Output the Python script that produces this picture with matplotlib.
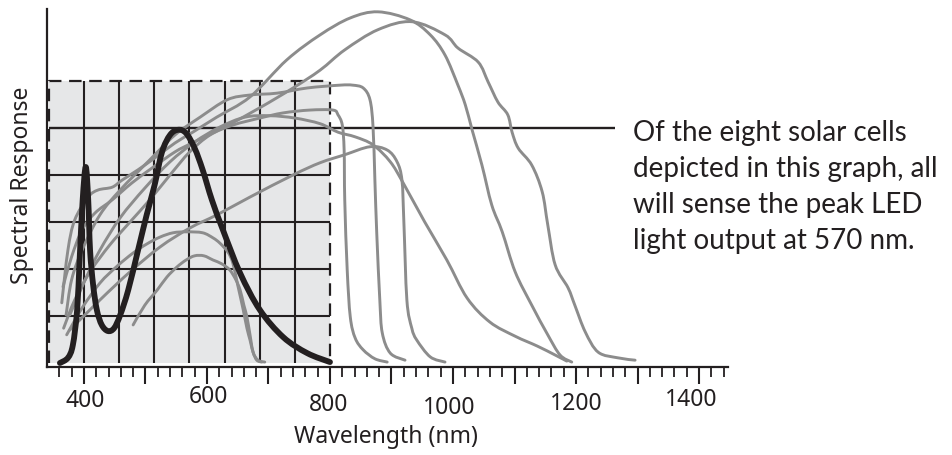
import matplotlib
matplotlib.use("Agg")
import matplotlib.pyplot as plt
from matplotlib.path import Path
from matplotlib.patches import PathPatch

plt.rcParams['lines.scale_dashes'] = False

# ---------------- data (wavelength nm, relative spectral response) -------------
cell_a_nm = [364, 374, 385, 407, 423, 446, 462, 488, 515, 548, 577, 616, 670, 730, 784, 833, 878, 930, 963, 987, 1008, 1020, 1031, 1047, 1063, 1080, 1101, 1128, 1154, 1174, 1193]
cell_a_r = [1.28, 2.40, 3.04, 3.53, 3.68, 3.74, 3.89, 4.11, 4.36, 4.68, 4.91, 5.23, 5.66, 6.45, 6.98, 7.34, 7.47, 7.30, 6.98, 6.55, 5.91, 5.49, 4.96, 4.21, 3.36, 2.79, 1.94, 1.23, 0.60, 0.17, 0.02]

cell_b_nm = [366, 380, 397, 418, 446, 478, 511, 548, 576, 626, 686, 740, 784, 824, 878, 933, 987, 1008, 1041, 1057, 1073, 1089, 1096, 1106, 1128, 1145, 1154, 1166, 1187, 1198, 1215, 1236, 1268, 1296]
cell_b_r = [1.62, 2.26, 2.83, 3.19, 3.47, 3.83, 4.15, 4.49, 4.68, 5.00, 5.43, 5.85, 6.23, 6.66, 7.09, 7.26, 6.98, 6.70, 6.40, 5.98, 5.55, 5.28, 4.91, 4.57, 4.21, 3.64, 2.94, 2.09, 1.60, 1.23, 0.66, 0.23, 0.11, 0.06]

cell_c_nm = [377, 402, 426, 459, 499, 540, 580, 621, 662, 702, 743, 784, 813, 841, 870, 898, 919, 954, 990, 1023, 1060, 1101, 1137, 1166, 1185]
cell_c_r = [1.02, 1.77, 2.40, 3.09, 3.72, 4.28, 4.70, 5.02, 5.23, 5.26, 5.21, 5.09, 4.91, 4.81, 4.64, 4.28, 3.83, 3.00, 2.19, 1.38, 0.87, 0.57, 0.36, 0.17, 0.04]

cell_d_nm = [371, 380, 397, 426, 459, 507, 548, 589, 633, 670, 714, 763, 816, 837, 854, 865, 870, 873, 876, 881, 885, 898, 922]
cell_d_r = [1.02, 1.77, 2.40, 3.15, 3.68, 4.32, 4.85, 5.23, 5.60, 5.70, 5.74, 5.85, 5.91, 5.91, 5.85, 5.60, 5.02, 3.89, 2.77, 1.34, 0.64, 0.21, 0.06]

cell_e_nm = [367, 385, 410, 442, 475, 507, 540, 572, 605, 642, 686, 724, 767, 805, 813, 820, 823, 824, 828, 833, 841, 854, 873, 893]
cell_e_r = [0.74, 1.34, 1.94, 2.51, 3.00, 3.47, 4.00, 4.49, 4.85, 5.06, 5.21, 5.32, 5.38, 5.38, 5.28, 5.06, 4.53, 3.47, 1.98, 0.98, 0.53, 0.28, 0.09, 0.02]

cell_f_nm = [377, 426, 475, 524, 572, 616, 670, 740, 784, 824, 865, 893, 909, 917, 920, 925, 933, 941, 963, 987]
cell_f_r = [0.70, 1.34, 1.94, 2.47, 2.87, 3.15, 3.53, 4.00, 4.26, 4.43, 4.60, 4.53, 4.28, 3.89, 3.04, 1.34, 0.74, 0.49, 0.13, 0.02]

cell_g_nm = [480, 499, 519, 535, 551, 566, 580, 595, 610, 624, 637, 647, 654, 660, 665, 670, 675, 683, 694]
cell_g_r = [0.81, 1.23, 1.55, 1.83, 2.04, 2.19, 2.28, 2.28, 2.19, 2.11, 1.98, 1.77, 1.55, 1.23, 0.98, 0.60, 0.23, 0.06, 0.02]

cell_h_nm = [372, 397, 426, 454, 480, 502, 524, 545, 567, 593, 610, 621, 634, 642, 650, 659, 665, 670, 675, 681, 689]
cell_h_r = [0.60, 1.17, 1.70, 2.06, 2.34, 2.53, 2.68, 2.77, 2.79, 2.77, 2.66, 2.55, 2.36, 2.13, 1.66, 1.13, 0.74, 0.49, 0.23, 0.06, 0.02]

led_nm = [361, 374, 382, 389, 393, 398, 403, 407, 410, 415, 421, 429, 439, 449, 459, 472, 488, 502, 515, 527, 540, 553, 566, 580, 593, 608, 626, 654, 686, 724, 763, 800]
led_r = [0.00, 0.11, 0.38, 1.13, 2.19, 3.47, 4.17, 3.47, 2.40, 1.66, 1.13, 0.81, 0.68, 0.74, 1.02, 1.55, 2.40, 3.15, 3.79, 4.49, 4.85, 4.96, 4.89, 4.57, 4.11, 3.47, 2.83, 1.91, 1.13, 0.55, 0.21, 0.02]

cells = [(cell_a_nm, cell_a_r), (cell_b_nm, cell_b_r), (cell_c_nm, cell_c_r),
         (cell_d_nm, cell_d_r), (cell_e_nm, cell_e_r), (cell_f_nm, cell_f_r),
         (cell_g_nm, cell_g_r), (cell_h_nm, cell_h_r)]

box_x = [343, 800]          # LED-range box (nm)
box_y = [0, 6]
grid_x = [400, 457, 514, 571, 629, 686, 743]
grid_y = [1, 2, 3, 4]
marker_level = 5            # horizontal reference line
marker_end = 1263

tick_labels = [400, 600, 800, 1000, 1200, 1400]
major_ticks = list(range(400, 1401, 100))
minor_ticks = list(range(360, 1441, 20))

annotation = ["Of the eight solar cells",
              "depicted in this graph, all",
              "will sense the peak LED",
              "light output at 570 nm."]


def smooth_path(xs, ys):
    """Catmull-Rom style cubic Bezier path passing through the data points."""
    pts = list(zip(xs, ys))
    verts = [pts[0]]
    codes = [Path.MOVETO]
    n = len(pts)
    for i in range(n - 1):
        p0 = pts[i - 1] if i > 0 else pts[i]
        p1 = pts[i]
        p2 = pts[i + 1]
        p3 = pts[i + 2] if i + 2 < n else pts[i + 1]
        c1 = (p1[0] + (p2[0] - p0[0]) / 6.0, p1[1] + (p2[1] - p0[1]) / 6.0)
        c2 = (p2[0] - (p3[0] - p1[0]) / 6.0, p2[1] - (p3[1] - p1[1]) / 6.0)
        verts += [c1, c2, p2]
        codes += [Path.CURVE4] * 3
    return Path(verts, codes)


# ---------------- figure ---------------------------------------------------------
W, H = 952, 455
fig = plt.figure(figsize=(W / 100, H / 100), dpi=100)
ax = fig.add_axes([47 / W, (H - 367) / H, (728 - 47) / W, (367 - 9) / H])
ax.set_xlim(340, 1447)
ax.set_ylim(-0.085, 7.53)

ink = '#231f20'
gray = '#8c8c8c'

# shaded box
ax.fill_between(box_x, box_y[0], box_y[1], color='#e6e7e8', lw=0, zorder=0)
for gx in grid_x:
    ax.plot([gx, gx], box_y, color=ink, lw=1.5, zorder=1, solid_capstyle='butt')
for gy in grid_y:
    ax.plot(box_x, [gy, gy], color=ink, lw=1.5, zorder=1, solid_capstyle='butt')
ax.plot([box_x[0], marker_end], [marker_level, marker_level], color=ink, lw=1.7, zorder=1,
        solid_capstyle='butt')
ax.plot([box_x[0], box_x[0], box_x[1], box_x[1]], [box_y[0], box_y[1], box_y[1], box_y[0]],
        color=ink, lw=1.6, dashes=(9, 5.5), zorder=1)

for xs, ys in cells:
    ax.add_patch(PathPatch(smooth_path(xs, ys), fill=False, edgecolor=gray, lw=2.1,
                           zorder=2, joinstyle='round', capstyle='round'))

ax.add_patch(PathPatch(smooth_path(led_nm, led_r), fill=False, edgecolor=ink, lw=4.2,
                       zorder=3, joinstyle='round', capstyle='round'))

# axes styling
for s in ['top', 'right']:
    ax.spines[s].set_visible(False)
for s in ['left', 'bottom']:
    ax.spines[s].set_linewidth(1.6)
    ax.spines[s].set_color(ink)
ax.set_yticks([])
ax.set_xticks(major_ticks)
ax.set_xticks(minor_ticks, minor=True)
ax.tick_params(axis='x', which='major', length=12, width=1.5, color=ink, labelbottom=False)
ax.tick_params(axis='x', which='minor', length=7, width=1.3, color=ink)

font = 'Noto Sans'
label_dx = [2, 3, -2, -7, 0, -13]
label_y = [-0.81, -0.72, -0.89, -0.96, -0.87, -0.79]
for v, dx, yy in zip(tick_labels, label_dx, label_y):
    ax.text(v + dx, yy, str(v), ha='center', va='center', fontsize=16.5,
            family=font, color=ink, clip_on=False, stretch='condensed')

fig.text(386 / W, 1 - 437 / H, 'Wavelength (nm)', ha='center', va='center',
         fontsize=16.5, family=font, color=ink)
fig.text(22 / W, 1 - 185 / H, 'Spectral Response', ha='center', va='center',
         rotation=90, fontsize=16.5, family=font, color=ink)

for i, line in enumerate(annotation):
    fig.text(633 / W, 1 - (133 + 36 * i) / H, line, ha='left', va='center',
             fontsize=20, family='Lato', color=ink)

fig.savefig('out.png', dpi=100)
